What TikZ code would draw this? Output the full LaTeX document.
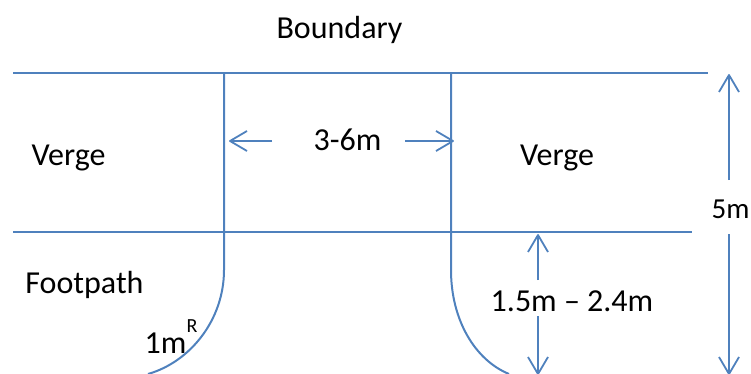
\documentclass[tikz,border=0pt]{standalone}
\usepackage{fontspec}
\setmainfont{Carlito}
\definecolor{ln}{HTML}{4F81BD}
\pgfdeclarearrow{
  name=OpenVee,
  setup code={
    \pgfarrowssettipend{0pt}
    \pgfarrowssetlineend{-1pt}
    \pgfarrowssetbackend{-17pt}
    \pgfarrowssetvisualbackend{-1pt}
  },
  drawing code={
    \pgfsetdash{}{0pt}
    \pgfsetroundjoin
    \pgfpathmoveto{\pgfpoint{-17pt}{10pt}}
    \pgfpathlineto{\pgfpoint{0pt}{0pt}}
    \pgfpathlineto{\pgfpoint{-17pt}{-10pt}}
    \pgfusepathqstroke
  }
}
\tikzset{
  wire/.style={draw=ln,line width=2pt},
  dim/.style={draw=ln,line width=1.8pt,-OpenVee},
  lab/.style={font=\fontsize{32}{36}\selectfont,text=black,inner sep=0pt,anchor=base}
}
\begin{document}
\begin{tikzpicture}[x=1pt,y=-1pt]
\useasboundingbox (0,0) rectangle (751,374);
\coordinate (tl) at (13,73); \coordinate (tr) at (708,73);
\coordinate (ml) at (13,232); \coordinate (mr) at (692,232);
\coordinate (a1) at (224,73); \coordinate (a2) at (224,270); \coordinate (a3) at (148,374);
\coordinate (b1) at (451,73); \coordinate (b2) at (451,270); \coordinate (b3) at (509,374);
\draw[wire] (tl) -- (tr);
\draw[wire] (ml) -- (mr);
\draw[wire] (a1) -- (a2) .. controls (224,320) and (190,362) .. (a3);
\draw[wire] (b1) -- (b2) .. controls (451,320) and (475,360) .. (b3);
\node[lab] (boundary) at (339.5,39) {Boundary};
\node[lab] (verge1) at (68.5,165) {Verge};
\node[lab] (verge2) at (557,165) {Verge};
\node[lab] (foot) at (84.5,293) {Footpath};
\node[lab] (w) at (347.5,150) {3-6m};
\node[lab,font=\fontsize{29}{32}\selectfont] (five) at (730.5,218) {5m};
\node[lab] (range) at (572,311) {1.5m – 2.4m};
\node[lab] (rad) at (165.5,353) {1m};
\node[font=\fontsize{20}{22}\selectfont,inner sep=0pt,anchor=base] (sup) at (192,332) {R};
\coordinate (w1s) at (272,141); \coordinate (w1e) at (230,141);
\coordinate (w2s) at (405,141); \coordinate (w2e) at (453,141);
\coordinate (r1s) at (538,280); \coordinate (r1e) at (538,235);
\coordinate (r2s) at (538,316); \coordinate (r2e) at (538,374);
\coordinate (f1s) at (729,180); \coordinate (f1e) at (729,75);
\coordinate (f2s) at (729,234); \coordinate (f2e) at (729,374);
\draw[dim] (w1s) -- (w1e);
\draw[dim] (w2s) -- (w2e);
\draw[dim] (r1s) -- (r1e);
\draw[dim] (r2s) -- (r2e);
\draw[dim] (f1s) -- (f1e);
\draw[dim] (f2s) -- (f2e);
\end{tikzpicture}
\end{document}
